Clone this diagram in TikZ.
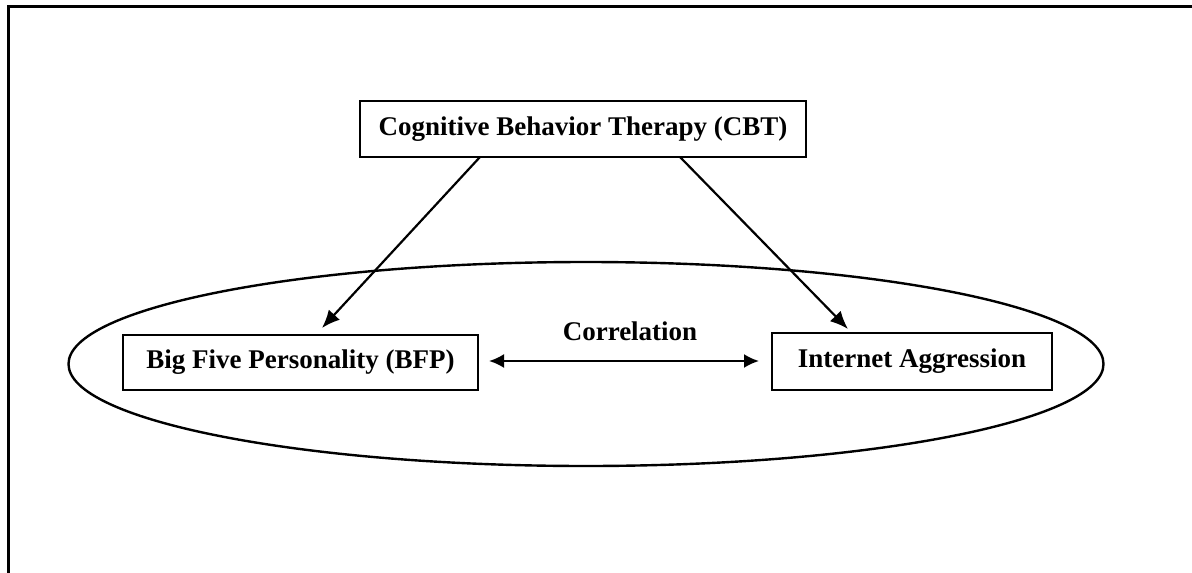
\documentclass[tikz,border=0pt]{standalone}
\usepackage{fontspec}
\setmainfont{Liberation Serif}
\usetikzlibrary{arrows.meta,shapes.geometric}
\begin{document}
\begin{tikzpicture}[x=1pt,y=-1pt,
  box/.style={draw,line width=2.6pt,inner sep=0pt,font=\fontsize{27}{32}\selectfont\bfseries},
  lbl/.style={inner sep=0pt,font=\fontsize{27}{32}\selectfont\bfseries},
  arr/.style={line width=2.2pt,-{Latex[length=18pt,width=15pt]}},
  darr/.style={line width=2.2pt,{Latex[length=15pt,width=14pt]}-{Latex[length=15pt,width=14pt]}}]
\useasboundingbox (0,0) rectangle (1192,573);
\draw[line width=3pt] (8,573) -- (8,6) -- (1192,6);
\node[draw,ellipse,line width=2.4pt,minimum width=1035pt,minimum height=204pt,inner sep=0pt] (ell) at (586,364) {};
\node[box,minimum width=446pt,minimum height=56pt] (cbt) at (583,129) {Cognitive Behavior Therapy (CBT)};
\node[box,minimum width=355pt,minimum height=55pt] (bfp) at (300.5,362.5) {Big Five Personality (BFP)};
\node[box,minimum width=280pt,minimum height=57pt] (ia) at (912,361.5) {Internet Aggression};
\node[lbl] (cor) at (630,331) {Correlation};
\coordinate (c1) at (480,157);
\coordinate (c2) at (680,157);
\coordinate (b1) at (322,328);
\coordinate (i1) at (848,329);
\coordinate (dl) at (489,361);
\coordinate (dr) at (759,361);
\draw[arr] (c1) -- (b1);
\draw[arr] (c2) -- (i1);
\draw[darr] (dl) -- (dr);
\end{tikzpicture}
\end{document}
